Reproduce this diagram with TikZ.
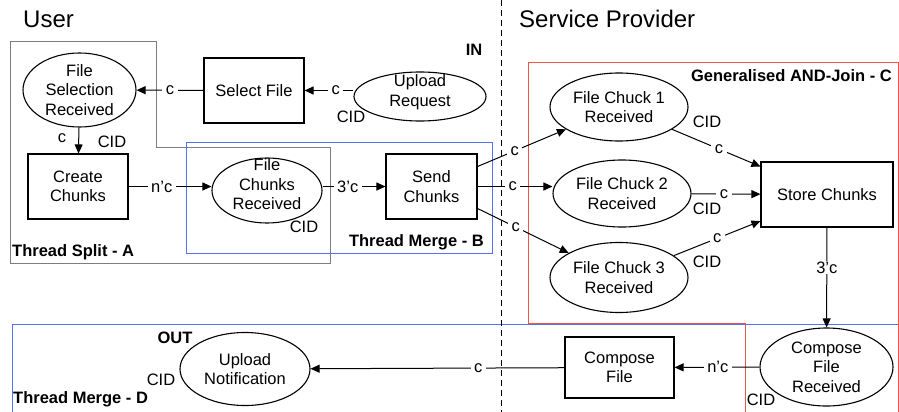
\documentclass[tikz,border=0pt]{standalone}
\usepackage{fontspec}
\setmainfont{Liberation Sans}
\usetikzlibrary{arrows.meta,shapes.geometric,calc}
\definecolor{grpgray}{RGB}{125,125,125}
\definecolor{grpblue}{RGB}{85,115,240}
\definecolor{grpred}{RGB}{238,85,70}

\begin{document}
\begin{tikzpicture}[x=1pt,y=-1pt,
  txt/.style={font=\fontsize{16.5}{19.5}\selectfont, align=center, inner sep=0pt},
  boldtxt/.style={font=\fontsize{16.5}{19.5}\selectfont\bfseries, inner sep=0pt},
  head/.style={font=\fontsize{24}{28}\selectfont, inner sep=0pt},
  box/.style={txt, draw, line width=1.1pt},
  oval/.style={txt, draw, ellipse, line width=1.1pt, inner xsep=0pt, inner ysep=-10pt},
  conn/.style={draw, line width=1pt, -{Triangle[length=9pt,width=8pt]}},
  lab/.style={txt, fill=white, inner xsep=3.5pt, inner ysep=1pt},
  grp/.style={line width=0.8pt}
]
\useasboundingbox (0,0) rectangle (899,412);
\clip (0,0) rectangle (899,412);

% grouping outlines
\draw[grp, grpgray] (10,41) -- (156,41) -- (156,147) -- (330,147) -- (330,263) -- (10,263) -- cycle;
\draw[grp, grpblue] (186,142) rectangle (492,253);
\draw[grp, grpblue] (12,324) rectangle (898,430);
\draw[grp, grpred] (528,62) -- (898,62) -- (898,430) -- (745,430) -- (745,323) -- (528,323) -- cycle;

% swimlane divider
\draw[line width=1pt, dash pattern=on 6pt off 4pt] (501,0) -- (501,412);

% headings
\node[head, anchor=west] (huser) at (23,19) {User};
\node[head, anchor=west] (hsp) at (519,19) {Service Provider};

% group labels
\node[boldtxt] (lin) at (474,50) {IN};
\node[boldtxt] (lout) at (175,338) {OUT};
\node[boldtxt, anchor=west] (lsplit) at (12,252) {Thread Split - A};
\node[boldtxt, anchor=east] (lmergeb) at (484,242) {Thread Merge - B};
\node[boldtxt, anchor=east] (ljoin) at (892,76) {Generalised AND-Join - C};
\node[boldtxt, anchor=west] (lmerged) at (13,399) {Thread Merge - D};

% tasks and events
\node[oval, minimum width=113pt, minimum height=74pt] (fsr) at (79.5,90) {File\\Selection\\Received};
\node[box, minimum width=100pt, minimum height=65pt] (sel) at (254,90.5) {Select File};
\node[oval, minimum width=132pt, minimum height=49pt, text depth=12pt] (up) at (420,96.5) {Upload\\Request};
\node[box, minimum width=100pt, minimum height=65pt] (cc) at (78,186.5) {Create\\Chunks};
\node[oval, minimum width=110pt, minimum height=65pt, text depth=12pt] (fcr) at (267,190.5) {File\\Chunks\\Received};
\node[box, minimum width=91pt, minimum height=65pt] (send) at (431.5,186.5) {Send\\Chunks};
\node[oval, minimum width=138pt, minimum height=68pt] (fc1) at (619,107) {File Chuck 1\\Received};
\node[oval, minimum width=138pt, minimum height=67pt] (fc2) at (622,193.5) {File Chuck 2\\Received};
\node[oval, minimum width=138pt, minimum height=70pt] (fc3) at (619,277.5) {File Chuck 3\\Received};
\node[box, minimum width=132pt, minimum height=65pt] (store) at (827,194.5) {Store Chunks};
\node[oval, minimum width=133pt, minimum height=78pt] (cfr) at (826.5,367) {Compose\\File\\Received};
\node[box, minimum width=109pt, minimum height=61pt] (cf) at (619.5,367.5) {Compose\\File};
\node[oval, minimum width=130pt, minimum height=73pt] (un) at (245,369) {Upload\\Notification};

% correlation identifiers
\node[txt] (cid1) at (351,117) {CID};
\node[txt] (cid2) at (112,142) {CID};
\node[txt] (cid3) at (304,227) {CID};
\node[txt] (cid4) at (707,122) {CID};
\node[txt] (cid5) at (707,209) {CID};
\node[txt] (cid6) at (707,262) {CID};
\node[txt] (cid7) at (761,400) {CID};
\node[txt] (cid8) at (161,380) {CID};

% flows
\draw[conn] (up.west |- sel) -- node[lab, pos=0.36] {c} (sel.east);
\draw[conn] (sel) -- node[lab] {c} (fsr);
\draw[conn] (fsr) -- (cc);
\node[txt] (csplit) at (62,138) {c};
\draw[conn] (cc.east) -- node[lab, pos=0.4] {n'c} (cc.east -| fcr.west);
\draw[conn] (fcr.east |- send) -- node[lab, pos=0.4] {3'c} (send.west);
\draw[conn] ([yshift=20pt]send.east) -- node[lab, pos=0.42] {c} (fc1);
\draw[conn] (send.east) -- node[lab, pos=0.47] {c} (send.east -| fc2.west);
\draw[conn] ([yshift=-22pt]send.east) -- node[lab, pos=0.42] {c} (fc3);
\draw[conn] (fc1) -- node[lab, pos=0.53] {c} (store);
\draw[conn] (fc2) -- node[lab, pos=0.47] {c} (store);
\draw[conn] (fc3) -- node[lab, pos=0.5] {c} (store);
\draw[conn] (store) -- node[lab, pos=0.4] {3'c} (cfr);
\draw[conn] (cfr) -- node[lab, pos=0.49] {n'c} (cf);
\draw[conn] (cf) -- node[lab, pos=0.34] {c} (un);
\end{tikzpicture}
\end{document}
